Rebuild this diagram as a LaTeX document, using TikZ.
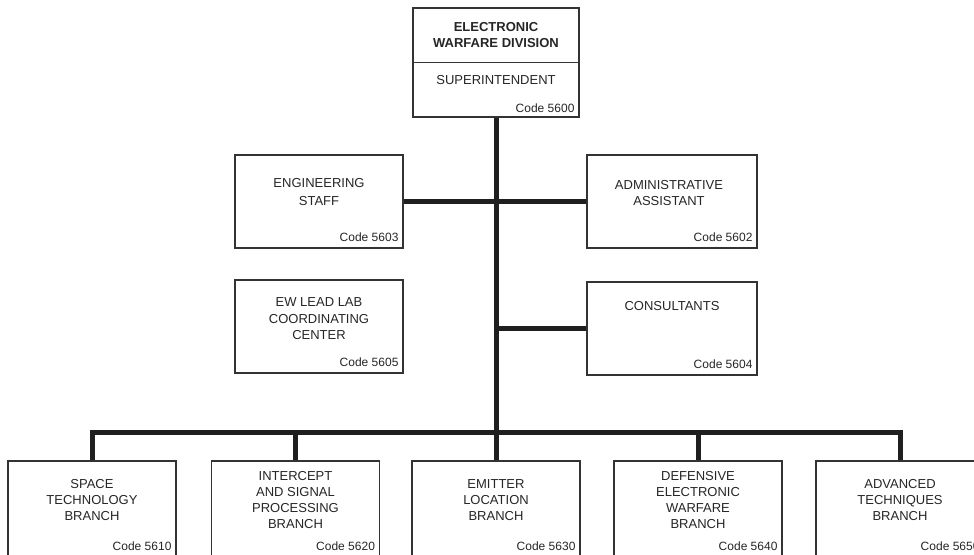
\documentclass[tikz,border=0pt]{standalone}
\usepackage{fontspec}
\setmainfont{Liberation Sans}
\begin{document}
\begin{tikzpicture}[x=1pt, y=-1pt,
		box/.style={draw=black!80, line width=1.3pt, fill=white, inner sep=0pt,
			minimum width=168pt, minimum height=93pt},
		txt/.style={align=center, inner sep=0pt, text=black!85,
			font=\fontsize{13}{16.5}\selectfont},
		code/.style={anchor=south east, inner xsep=5pt, inner ysep=7pt, text=black!85,
			font=\fontsize{12}{14}\selectfont},
		bar/.style={draw=black!88, line width=5pt, line join=miter}]
		\useasboundingbox (0,0) rectangle (974,554);
		\clip (0,0) rectangle (974,554);
		% division head
		\node[box, minimum width=166pt, minimum height=109pt] (div) at (496,62.5) {};
		\draw[draw=black!80, line width=1.3pt] (div.west) -- (div.east);
		\node[txt, font=\fontsize{13}{16}\selectfont\bfseries] (divname) at (496,35) {ELECTRONIC\\WARFARE DIVISION};
		\node[txt] (suptxt) at (496,80) {SUPERINTENDENT};
		\node[code, inner ysep=5pt] (c5600) at (div.south east) {Code 5600};
		% staff
		\node[box] (eng) at (319,201.5) {};
		\node[txt, font=\fontsize{13}{18}\selectfont] (engtxt) at (319,192) {ENGINEERING\\STAFF};
		\node[code] (c5603) at (eng.south east) {Code 5603};
		\node[box, minimum width=170pt] (adm) at (672,201.5) {};
		\node[txt] (admtxt) at (669,193) {ADMINISTRATIVE\\ASSISTANT};
		\node[code] (c5602) at (adm.south east) {Code 5602};
		\node[box] (lead) at (319,326.5) {};
		\node[txt] (leadtxt) at (319,319) {EW LEAD LAB\\COORDINATING\\CENTER};
		\node[code] (c5605) at (lead.south east) {Code 5605};
		\node[box, minimum width=170pt] (cons) at (672,328.5) {};
		\node[txt] (constxt) at (672,306) {CONSULTANTS};
		\node[code] (c5604) at (cons.south east) {Code 5604};
		% branches
		\foreach \bx/\name/\code [count=\i] in {
			92/{SPACE\\TECHNOLOGY\\BRANCH}/5610,
			295.5/{INTERCEPT\\AND SIGNAL\\PROCESSING\\BRANCH}/5620,
			496/{EMITTER\\LOCATION\\BRANCH}/5630,
			698/{DEFENSIVE\\ELECTRONIC\\WARFARE\\BRANCH}/5640,
			900/{ADVANCED\\TECHNIQUES\\BRANCH}/5650}{
				\node[box, minimum height=97pt] (b\i) at (\bx,509.5) {};
				\node[txt, font=\fontsize{13}{16}\selectfont] (bt\i) at (\bx,500) {\name};
				\node[code, inner ysep=8pt] (bc\i) at (b\i.south east) {Code \code};
			}
		% connectors
		\coordinate (hub) at (496,432);
		\coordinate (j2) at (496,328.5);
		\draw[bar] (div.south) -- (hub);
		\draw[bar] (eng.east) -- (adm.west);
		\draw[bar] (j2) -- (cons.west);
		\draw[bar] (b1.north) -- (b1.north |- hub) -- (b5.north |- hub) -- (b5.north);
		\foreach \i in {2,3,4}{
				\draw[bar] (b\i.north |- hub) -- (b\i.north);
			}
	\end{tikzpicture}
\end{document}
